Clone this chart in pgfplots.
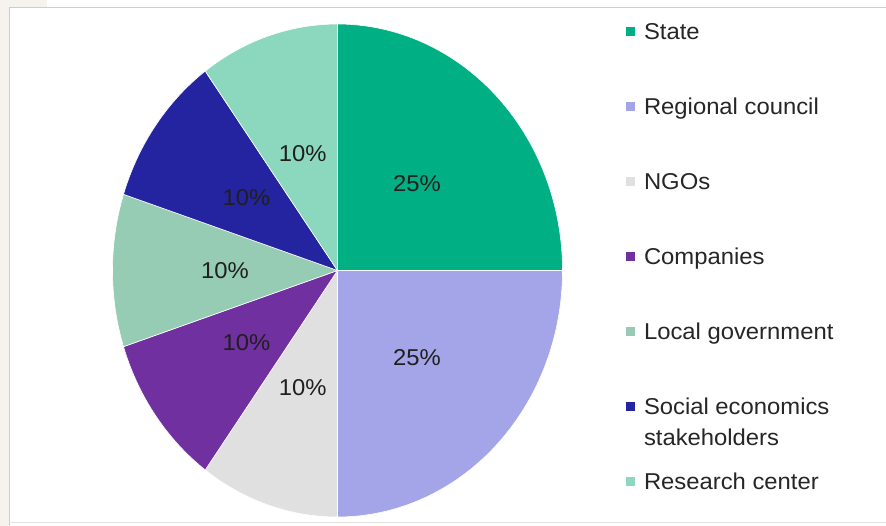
\documentclass[border=0pt]{standalone}
\usepackage{pgfplots}
\usepackage{pgfplotstable}
\pgfplotsset{compat=1.18}
\usepackage{fontspec}
\setmainfont[FakeStretch=1.04]{Liberation Sans}
\definecolor{pie0}{RGB}{0,176,132}
\definecolor{pie1}{RGB}{164,164,232}
\definecolor{pie2}{RGB}{224,224,224}
\definecolor{pie3}{RGB}{112,48,160}
\definecolor{pie4}{RGB}{150,204,180}
\definecolor{pie5}{RGB}{36,36,160}
\definecolor{pie6}{RGB}{140,216,190}
\definecolor{frameBeige}{RGB}{246,243,238}
\definecolor{frameGray}{RGB}{205,205,205}
\newcommand\twoline[2]{\begin{tabular}[t]{@{}l@{}}#1\\#2\end{tabular}}
\expandafter\def\csname pieName0\endcsname{State}
\expandafter\def\csname pieName1\endcsname{Regional council}
\expandafter\def\csname pieName2\endcsname{NGOs}
\expandafter\def\csname pieName3\endcsname{Companies}
\expandafter\def\csname pieName4\endcsname{Local government}
\expandafter\def\csname pieName5\endcsname{\twoline{Social economics}{stakeholders}}
\expandafter\def\csname pieName6\endcsname{Research center}
\pgfplotstableread{
idx share
0 25
1 25
2 10
3 10
4 10
5 10
6 10
}\piedata
\begin{document}
\begin{tikzpicture}
\useasboundingbox (0,0) rectangle (886bp,526bp);
\fill[white] (0,0) rectangle (886bp,526bp);
\fill[frameBeige] (0,0) rectangle (9bp,526bp);
\fill[frameBeige] (0,518bp) rectangle (47bp,526bp);
\draw[frameGray, line width=1bp] (9bp,518bp) -- (886bp,518bp);
\draw[frameGray, line width=1bp] (9bp,0) -- (9bp,518bp);
\draw[frameGray!60, line width=1bp] (9bp,3bp) -- (886bp,3bp);
\begin{axis}[
  at={(0,0)}, anchor=south west,
  width=886bp, height=526bp, scale only axis,
  xmin=-1.5, xmax=2.4378, ymin=-1.0365, ymax=1.0974,
  hide axis, clip=false,
  legend cell align=left,
  legend image code/.code={\path[#1, draw=none] (0bp,-5bp) rectangle (9bp,4.5bp);},
  legend style={at={(axis cs:1.28,1.004)}, anchor=north west,
    draw=none, fill=none, inner sep=0pt, outer sep=0pt,
    row sep=58.6bp, column sep=9.5bp,
    font=\fontsize{23}{31}\selectfont, text=black!85,
    nodes={inner sep=0pt, text height=16.4bp, text depth=0pt}},
]
\gdef\pieStart{90}
\pgfplotsforeachungrouped \i in {0,...,6}{
  \pgfplotstablegetelem{\i}{share}\of\piedata
  \let\v\pgfplotsretval
  \pgfmathsetmacro\pieEnd{\pieStart-3.6*\v}
  \pgfmathsetmacro\pieMid{(\pieStart+\pieEnd)/2}
  \pgfmathsetmacro\lx{0.5*cos(\pieMid)}
  \pgfmathsetmacro\ly{0.5*sin(\pieMid)}
  \edef\doplot{\noexpand\addplot[fill=pie\i, draw=white, line width=0.6bp, domain=\pieEnd:\pieStart, samples=80] ({cos(x)},{sin(x)}) -- (axis cs:0,0) -- cycle;}
  \doplot
  \expandafter\addlegendentry\expandafter{\csname pieName\i\endcsname}
  \edef\dolabel{\noexpand\node[font=\noexpand\fontsize{23}{27}\noexpand\selectfont, text=black!88, anchor=center, inner sep=0pt] at (axis cs:\lx,\ly) {\v\noexpand\%};}
  \dolabel
  \global\let\pieStart\pieEnd
}
\end{axis}
\end{tikzpicture}
\end{document}
